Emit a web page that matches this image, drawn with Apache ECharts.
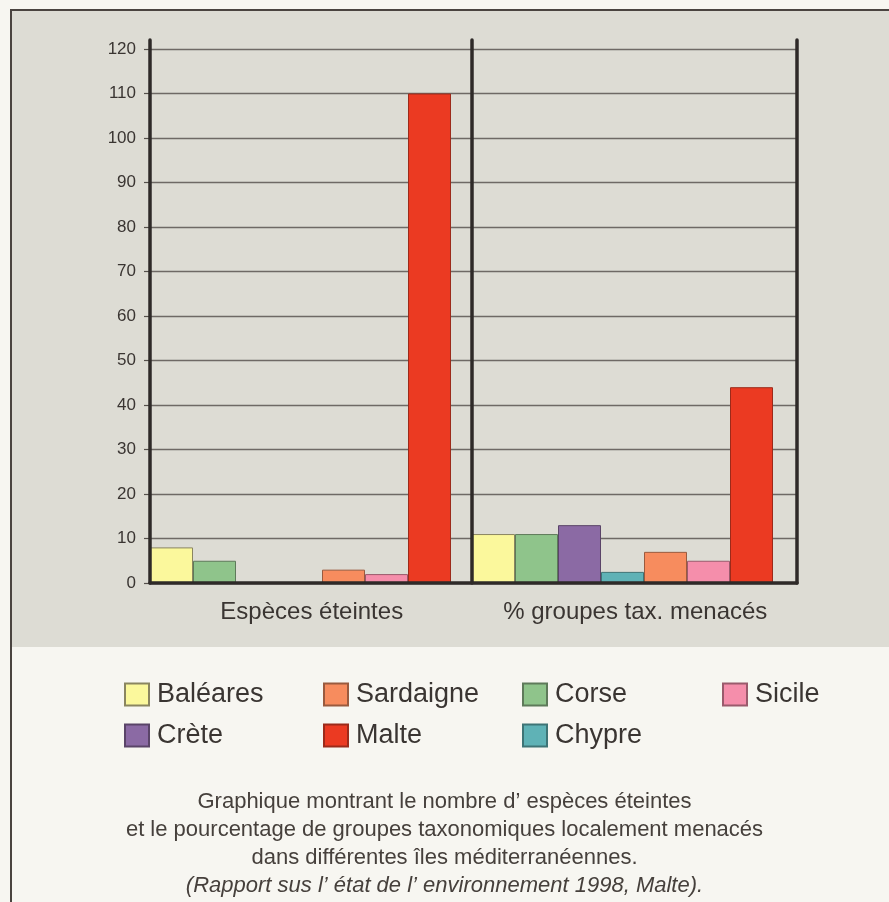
<!DOCTYPE html>
<html>
<head>
<meta charset="utf-8">
<script src="https://cdn.jsdelivr.net/npm/echarts@6/dist/echarts.min.js"></script>
<style>
html,body{margin:0;padding:0;background:#f7f6f1;}
#c{width:889px;height:902px;}
</style>
</head>
<body>
<div id="c"></div>
<script>
// ---- Data ----
const panels = ['Espèces éteintes', '% groupes tax. menacés'];
const islands = ['Baléares', 'Corse', 'Crète', 'Chypre', 'Sardaigne', 'Sicile', 'Malte'];
const especesEteintes = [8, 5, 0, 0, 3, 2, 110];
const groupesMenaces = [11, 11, 13, 2.5, 7, 5, 44];
const yTicks = [0, 10, 20, 30, 40, 50, 60, 70, 80, 90, 100, 110, 120];
const legendColumns = [['Baléares', 'Crète'], ['Sardaigne', 'Malte'], ['Corse', 'Chypre'], ['Sicile']];
const captionLines = [
  'Graphique montrant le nombre d\u2019 espèces éteintes',
  'et le pourcentage de groupes taxonomiques localement menacés',
  'dans différentes îles méditerranéennes.'
];
const captionSource = '(Rapport sus l\u2019 état de l\u2019 environnement 1998, Malte).';

// ---- Styles ----
const colors = {
  'Baléares': ['#fbf89c', '#8a8560'],
  'Corse': ['#8fc48b', '#5e7a5a'],
  'Crète': ['#8b6aa4', '#5a4468'],
  'Chypre': ['#5fb2b6', '#3e7476'],
  'Sardaigne': ['#f78c5e', '#9a5a3e'],
  'Sicile': ['#f58eab', '#9a5a6c'],
  'Malte': ['#eb3a22', '#9c2a1a']
};
const FONT = '"Liberation Sans", Arial, Helvetica, sans-serif';
const ink = '#3a3532';
const lineInk = '#2e2a28';
const yMin = yTicks[0], yMax = yTicks[yTicks.length - 1], yStep = yTicks[1] - yTicks[0];

const chart = echarts.init(document.getElementById('c'), null, {renderer: 'canvas'});

const plotTop = 49, plotBottomY = 583, plotH = plotBottomY - plotTop;
const leftX = 150, midX = 472, rightX = 797, barW = 43;

const grids = [
  {left: leftX, top: plotTop, width: rightX - leftX, height: plotH},          // 0 background grid
  {left: leftX, top: plotTop, width: barW * islands.length, height: plotH},   // 1 left bars
  {left: midX, top: plotTop, width: barW * islands.length, height: plotH},    // 2 right bars
  {left: leftX, top: 40, width: rightX - leftX, height: plotBottomY - 40},    // 3 outer vertical lines
  {left: midX, top: 40, width: rightX - midX, height: plotBottomY - 40}       // 4 middle vertical line
];

const hiddenX = (gi) => ({type: 'category', gridIndex: gi, data: islands, show: false});
const hiddenY = (gi) => ({type: 'value', gridIndex: gi, min: yMin, max: yMax, interval: yStep, show: false});
const lineY = (gi, pos) => ({
  type: 'value', gridIndex: gi, position: pos, min: 0, max: 1, z: 6,
  axisLine: {show: true, lineStyle: {color: lineInk, width: 3.5}},
  axisTick: {show: false}, axisLabel: {show: false}, splitLine: {show: false}
});

const xAxes = [
  {
    type: 'category', gridIndex: 0, data: panels, z: 6,
    axisLine: {show: true, lineStyle: {color: lineInk, width: 3.5}},
    axisTick: {show: false},
    axisLabel: {color: ink, fontSize: 24, fontFamily: FONT, margin: 17, interval: 0}
  },
  hiddenX(1), hiddenX(2),
  {type: 'category', gridIndex: 3, data: panels, show: false},
  {type: 'category', gridIndex: 4, data: panels, show: false}
];
const yAxes = [
  {
    type: 'value', gridIndex: 0, min: yMin, max: yMax, interval: yStep, z: 0,
    axisLine: {show: false},
    axisTick: {show: true, length: 6, lineStyle: {color: '#55504c', width: 1.2}},
    axisLabel: {color: ink, fontSize: 17, fontFamily: FONT, margin: 14},
    splitLine: {show: true, lineStyle: {color: '#6e6965', width: 1.3}}
  },
  hiddenY(1), hiddenY(2),
  lineY(3, 'left'), lineY(3, 'right'), lineY(4, 'left')
];

const series = [];
[especesEteintes, groupesMenaces].forEach((vals, p) => {
  islands.forEach((name, i) => {
    series.push({
      name: name, type: 'bar', xAxisIndex: p + 1, yAxisIndex: p + 1,
      barGap: '-100%', barCategoryGap: '0%', z: 3,
      itemStyle: {color: colors[name][0], borderColor: colors[name][1], borderWidth: 1},
      emphasis: {disabled: true},
      data: islands.map((_, j) => (j === i ? vals[i] : '-'))
    });
  });
});

const legendLefts = [124, 323, 522, 722];
const legends = legendColumns.map((col, k) => ({
  data: col, orient: 'vertical', left: legendLefts[k], top: 681,
  itemWidth: 24, itemHeight: 22, itemGap: 14, padding: 0,
  selectedMode: false, icon: 'rect',
  textStyle: {color: ink, fontSize: 27, fontFamily: FONT, padding: [0, 0, 0, 3]}
}));

const option = {
  backgroundColor: '#f7f6f1',
  animation: false,
  textStyle: {fontFamily: FONT},
  graphic: [
    {type: 'rect', z: -10, silent: true, shape: {x: 12, y: 11, width: 877, height: 636}, style: {fill: '#dddcd4'}},
    {type: 'line', z: -9, silent: true, shape: {x1: 10, y1: 10, x2: 889, y2: 10}, style: {stroke: '#4a4440', lineWidth: 2}},
    {type: 'line', z: -9, silent: true, shape: {x1: 11, y1: 10, x2: 11, y2: 902}, style: {stroke: '#4a4440', lineWidth: 2}}
  ],
  title: {
    left: 'center', top: 783,
    text: captionLines.join('\n') + '\n{i|' + captionSource + '}',
    textStyle: {
      color: '#46403c', fontSize: 22, fontWeight: 'normal', fontFamily: FONT, lineHeight: 28,
      rich: {i: {fontStyle: 'italic', fontSize: 22, lineHeight: 28, color: '#46403c', fontFamily: FONT}}
    }
  },
  legend: legends,
  grid: grids,
  xAxis: xAxes,
  yAxis: yAxes,
  series: series
};
chart.setOption(option);
</script>
</body>
</html>
